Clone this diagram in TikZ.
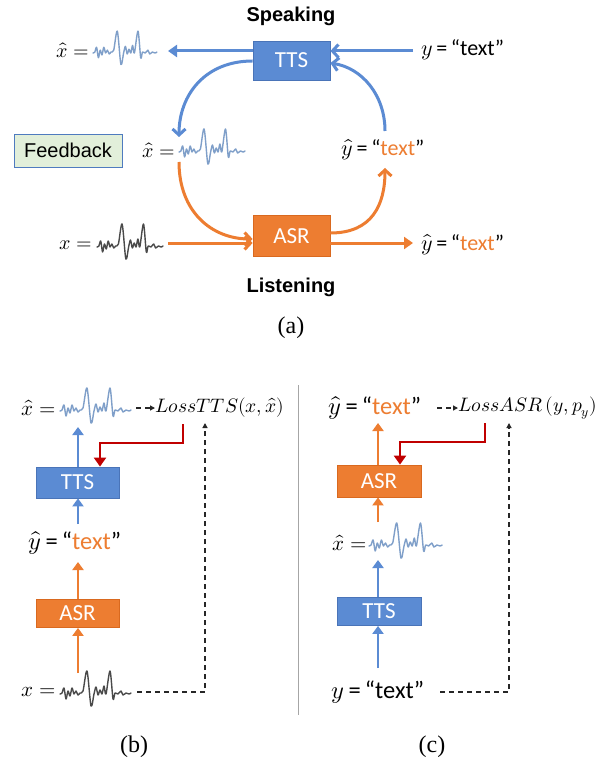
\documentclass[tikz,border=0pt]{standalone}
\usepackage{fontspec}
\usepackage{unicode-math}
\setmathfont{Latin Modern Math}
\setmainfont{Liberation Serif}
\newfontfamily\arialf{Liberation Sans}
\newfontfamily\calf{Carlito}
\usetikzlibrary{arrows.meta}
\newcommand\myfs[1]{\fontsize{#1}{#1}\selectfont}
\definecolor{tblue}{HTML}{5B8BD3}
\definecolor{tborder}{HTML}{4A74B8}
\definecolor{torange}{HTML}{ED7D31}
\definecolor{oborder}{HTML}{D9691F}
\definecolor{lred}{HTML}{C00000}
\definecolor{wblue}{HTML}{7F9FC9}
\definecolor{wdark}{HTML}{4A4A4A}
\definecolor{fbfill}{HTML}{E2EFDA}
\definecolor{fbborder}{HTML}{4F7BBF}
\tikzset{
  wave/.pic={\draw[line width=1.4pt, line join=round, line cap=round]
    plot[smooth, tension=0.5] coordinates {(0,0) (2,-1) (4,-6) (6,5) (8,-3) (10,2) (12,-6) (14,0) (16,-3) (18,1) (20,-1) (23,-3) (27,-23) (31,12) (34,0) (36,-7) (38,1) (40,-4) (42,0) (44,-8) (46,0) (50,-23) (53,5) (55,-1) (58,0) (61,-3) (63,1) (66,-1) (69,0) (71,-1)};},
  boxb/.style={inner sep=0pt, text=white, line width=0.8pt},
  ttsbox/.style={boxb, fill=tblue, draw=tborder},
  asrbox/.style={boxb, fill=torange, draw=oborder},
  mlbl/.style={inner sep=0pt, font=\myfs{20}},
  lbl/.style={inner sep=0pt, font=\myfs{22}},
  bmlbl/.style={inner sep=0pt, font=\myfs{21}},
  blbl/.style={inner sep=0pt, font=\myfs{24.5}},
  losslbl/.style={inner sep=0pt, font=\myfs{19.5}},
  barr/.style={draw=tblue, line width=3pt, -{Straight Barb[length=6pt,width=13pt]}},
  oarr/.style={draw=torange, line width=3pt, -{Straight Barb[length=6pt,width=13pt]}},
  barrT/.style={draw=tblue, line width=3pt, -{Triangle[length=9pt,width=12pt]}},
  oarrT/.style={draw=torange, line width=3pt, -{Triangle[length=9pt,width=12pt]}},
  sbarr/.style={draw=tblue, line width=2.6pt, -{Triangle[length=8pt,width=11pt]}},
  soarr/.style={draw=torange, line width=2.6pt, -{Triangle[length=8pt,width=11pt]}},
  redarr/.style={draw=lred, line width=2.8pt, -{Triangle[length=9pt,width=12pt]}},
  dasharr/.style={draw=black!85, line width=1.2pt, dash pattern=on 5pt off 4pt, -{Triangle[length=5pt,width=5pt]}},
  heading/.style={inner sep=0pt, font=\arialf\bfseries\myfs{20}},
  caplbl/.style={inner sep=0pt, font=\myfs{24}}
}
\newcommand\txt[1]{{\calf\,=\,“\textcolor{#1}{text}”}}
\begin{document}
\begin{tikzpicture}[x=1pt,y=-1pt]
\useasboundingbox[fill=white] (0,0) rectangle (606,767);

% ---------------- (a) ----------------
\node[heading] (speak) at (291,16) {Speaking};
\node[ttsbox, minimum width=77pt, minimum height=39pt, font=\calf\myfs{23}] (tts) at (291.5,60.5) {TTS};
\node[asrbox, minimum width=77pt, minimum height=41pt, font=\calf\myfs{23}] (asr) at (291.5,236) {ASR};

\node[mlbl, anchor=east] (xh1) at (89,50) {$\hat{x} =$};
\pic[wblue, xscale=0.9, yscale=0.95] at (93,53) {wave};
\coordinate (xh1in) at (168,51);
\node[lbl, anchor=west] (y1) at (421,50) {$y$\txt{black}};
\coordinate (y1out) at (413,51);

\node[mlbl, anchor=east] (xh2) at (175,150) {$\hat{x} =$};
\pic[wblue, xscale=0.93] at (179,152) {wave};
\node[lbl] (yh2) at (383,150) {$\hat{y}$\txt{torange}};

\node[mlbl, anchor=east] (x3) at (92,245) {$x =$};
\pic[wdark, xscale=0.93] at (97,247) {wave};
\coordinate (x3out) at (168,243);
\node[lbl, anchor=west] (yh3) at (421,245) {$\hat{y}$\txt{torange}};
\coordinate (yh3in) at (413,243);

\node[draw=fbborder, fill=fbfill, line width=0.8pt, minimum width=108pt, minimum height=33pt, inner sep=0pt, font=\arialf\myfs{20}] (fb) at (68,150.5) {Feedback};

\node[heading] (listen) at (291,287) {Listening};
\node[caplbl] (capa) at (291,328) {(a)};

\draw[barrT] (tts.west |- xh1in) -- (xh1in);
\draw[barr] (y1out) -- (tts.east |- y1out);
\draw[barr] (tts.west |- 0,61) .. controls (205,61) and (179,95) .. (179,137);
\draw[oarr] (179,162) .. controls (179,212) and (212,239) .. (asr.west |- 0,239);
\draw[oarr] (x3out) -- (asr.west |- x3out);
\draw[oarrT] (asr.east |- yh3in) -- (yh3in);
\draw[oarr] (asr.east |- 0,233) .. controls (372,233) and (385,205) .. (385,168);
\draw[barr] (385,131) .. controls (385,95) and (362,68) .. (tts.east |- 0,63);

% ---------------- (b) ----------------
\draw[gray!70, line width=1pt] (298,385) -- (298,715);

\node[bmlbl, anchor=east] (xh4) at (56,408) {$\hat{x} =$};
\pic[wblue] at (60,411) {wave};
\node[losslbl, anchor=west] (lossb) at (155,408) {$LossTTS(x,\hat{x})$};
\coordinate (xh4end) at (136,408);
\node[ttsbox, minimum width=83pt, minimum height=31pt, font=\calf\myfs{23}] (ttsb) at (77.5,482.5) {TTS};
\node[blbl] (yhb) at (75,543) {$\hat{y}$\txt{torange}};
\node[asrbox, minimum width=83pt, minimum height=28pt, font=\calf\myfs{23}] (asrb) at (77.5,613.5) {ASR};
\node[bmlbl, anchor=east] (xb) at (56,692) {$x =$};
\pic[wdark] at (60,694) {wave};
\coordinate (xbend) at (137,692);
\coordinate (dashb) at (205,692);

\draw[dasharr] (xh4end) -- (lossb.west);
\draw[sbarr] (ttsb.north -| 78,0) -- (78,427);
\draw[sbarr] (78,524) -- (ttsb.south -| 78,0);
\draw[soarr] (asrb.north -| 78,0) -- (78,562);
\draw[soarr] (78,673) -- (asrb.south -| 78,0);
\draw[redarr] (183,424) -- (183,443) -- (100,443) -- (ttsb.north -| 100,0);
\draw[dasharr] (xbend) -- (dashb) -- (205,423);

\node[caplbl] (capb) at (134,747) {(b)};

% ---------------- (c) ----------------
\node[blbl] (yhc) at (375,408) {$\hat{y}$\txt{torange}};
\node[losslbl, anchor=west] (lossc) at (458,408) {$LossASR\,(y,p_y)$};
\coordinate (yhcend) at (437,408);
\node[asrbox, minimum width=84pt, minimum height=32pt, font=\calf\myfs{23}] (asrc) at (379,481) {ASR};
\node[bmlbl, anchor=east] (xhc) at (367,543) {$\hat{x} =$};
\pic[wblue, xscale=1.03] at (369,546) {wave};
\node[ttsbox, minimum width=84pt, minimum height=28pt, font=\calf\myfs{23}] (ttsc) at (379,611.5) {TTS};
\node[blbl] (yc) at (378,692) {$y$\txt{black}};
\coordinate (ycend) at (440,692);
\coordinate (dashc) at (509,692);

\draw[dasharr] (yhcend) -- (lossc.west);
\draw[soarr] (asrc.north -| 378,0) -- (378,423);
\draw[soarr] (378,522) -- (asrc.south -| 378,0);
\draw[sbarr] (ttsc.north -| 378,0) -- (378,560);
\draw[sbarr] (378,668) -- (ttsc.south -| 378,0);
\draw[redarr] (485,423) -- (485,442) -- (400,442) -- (asrc.north -| 400,0);
\draw[dasharr] (ycend) -- (dashc) -- (509,423);

\node[caplbl] (capc) at (432,747) {(c)};
\end{tikzpicture}
\end{document}
